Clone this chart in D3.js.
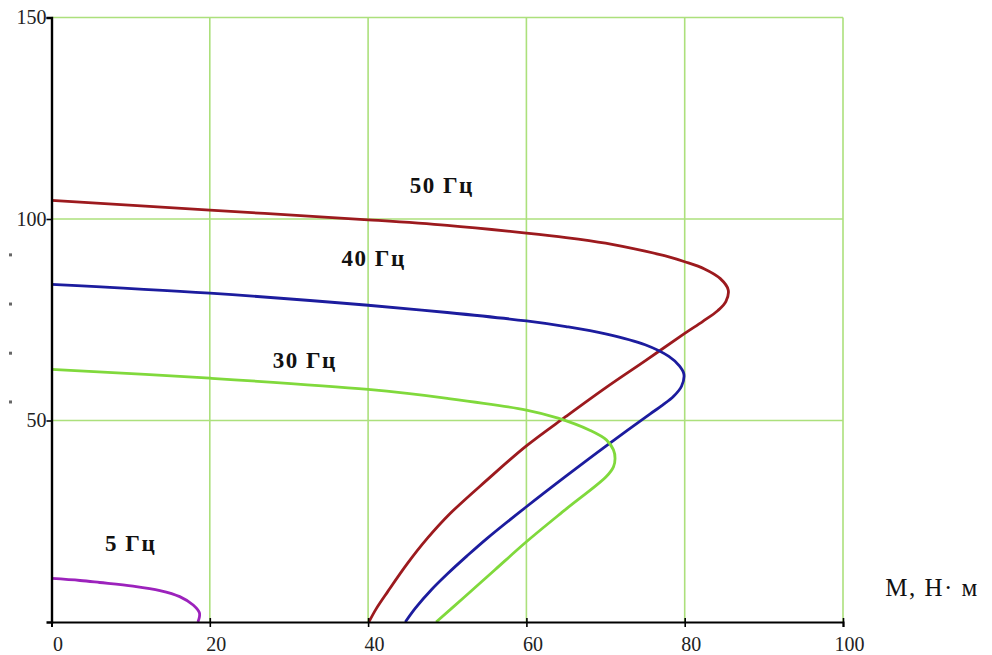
<!DOCTYPE html>
<html>
<head>
<meta charset="utf-8">
<script src="https://cdn.jsdelivr.net/npm/d3@7"></script>
<style>
  html, body { margin: 0; padding: 0; background: #fff; }
  svg { display: block; }
</style>
</head>
<body>
<svg id="chart" width="992" height="655"></svg>
<script>
// Mechanical characteristics n(M) of the motor at several supply frequencies
const torque50 = [0, 20, 40, 50, 60, 65, 70, 75, 78, 80, 82.5, 84.5, 85.5, 85.2, 84.2, 82.3, 80, 75, 70, 65, 60, 55, 50.3, 47.5, 45, 42.5, 41, 40.1];
const speed50  = [104.6, 102.2, 99.8, 98.4, 96.5, 95.4, 94, 92, 90.6, 89.4, 87.6, 85.2, 82.4, 79.5, 77.3, 74.6, 71.6, 64.8, 58.1, 51, 43.7, 35.2, 26.8, 20.8, 14.6, 7.6, 3.2, 0];

const torque40 = [0, 20, 40, 50, 60, 65, 70, 75, 78, 79.3, 79.9, 79.6, 78.6, 77.2, 75.6, 70, 65, 60, 55, 52.5, 50, 48, 46, 44.7];
const speed40  = [83.8, 81.6, 78.6, 76.8, 74.7, 73.3, 71.5, 68.8, 65.9, 63.6, 61.5, 58.5, 56, 53.8, 51.6, 43.6, 36.2, 28.6, 20.7, 16.4, 11.9, 8, 3.5, 0];

const torque30 = [0, 20, 40, 50, 60, 64, 68, 70.1, 71, 71.2, 71, 70.1, 65, 60, 56, 52, 48.6];
const speed30  = [62.7, 60.5, 57.7, 55.5, 52.6, 50.6, 47.6, 45.2, 42.7, 40.6, 38.5, 36.1, 28, 19.9, 12.9, 5.9, 0];

const torque5 = [0, 3.6, 6.1, 10.3, 13.7, 16.2, 17.9, 18.7, 18.5];
const speed5  = [10.8, 10.3, 9.8, 8.9, 7.8, 6.3, 4.2, 2.2, 0];

const curveNames  = ["50 Гц", "40 Гц", "30 Гц", "5 Гц"];
const curveColors = ["#9c1a1e", "#1c1c9e", "#80d93c", "#9c22bc"];
// label anchor points in data units (torque, speed)
const labelM = [49.3, 40.7, 32, 10];
const labelN = [108.3, 90.3, 64.8, 19.5];

const xTicks = [0, 20, 40, 60, 80, 100];
const yTicks = [50, 100, 150];
const yMarks = [54.6, 66.7, 78.9, 91.1];
const xTitle = "М, Н· м";

const svg = d3.select("#chart");
const plotLeft = 51.5, plotRight = 843, plotTop = 17.5, plotBottom = 622;
const serif = "'Liberation Serif', 'Times New Roman', serif";

const x = d3.scaleLinear().domain([0, 100]).range([plotLeft, plotRight]);
const y = d3.scaleLinear().domain([0, 150]).range([plotBottom, plotTop]);

// grid
const grid = svg.append("g").attr("stroke", "#ace07c").attr("stroke-width", 1.6);
grid.selectAll("line.v").data(xTicks.filter(d => d > 0)).join("line")
  .attr("class", "v")
  .attr("x1", d => x(d)).attr("x2", d => x(d))
  .attr("y1", y(150)).attr("y2", y(0));
grid.selectAll("line.h").data(yTicks).join("line")
  .attr("class", "h")
  .attr("x1", x(0)).attr("x2", x(100))
  .attr("y1", d => y(d)).attr("y2", d => y(d));

// curves
const series = [
  [torque50, speed50],
  [torque40, speed40],
  [torque30, speed30],
  [torque5, speed5]
];
const line = d3.line()
  .x(d => x(d[0])).y(d => y(d[1]))
  .curve(d3.curveCatmullRom.alpha(0.5));

series.forEach(([ms, ns], i) => {
  const pts = ms.map((m, k) => [m, ns[k]]);
  svg.append("path")
    .datum(pts)
    .attr("d", line)
    .attr("fill", "none")
    .attr("stroke", curveColors[i])
    .attr("stroke-width", 2.8)
    .attr("stroke-linejoin", "round");
});

// axes
const xAxis = d3.axisBottom(x).tickValues(xTicks).tickSize(5).tickFormat(d3.format("d"));
const gx = svg.append("g").attr("transform", `translate(0,${plotBottom})`).call(xAxis);
gx.select(".domain").attr("stroke", "#000").attr("stroke-width", 2);
gx.selectAll(".tick line").attr("stroke", "#000").attr("stroke-width", 1.6).attr("y1", -4);
gx.selectAll(".tick text")
  .attr("font-family", serif)
  .attr("font-size", 20).attr("fill", "#222")
  .attr("dx", 6).attr("y", 15).attr("dy", "0.71em");

const yAxis = d3.axisLeft(y).tickValues(yTicks).tickSize(5).tickFormat(d3.format("d"));
const gy = svg.append("g").attr("transform", `translate(${plotLeft},0)`).call(yAxis);
gy.select(".domain").attr("stroke", "#000").attr("stroke-width", 2.4);
gy.selectAll(".tick line").attr("stroke", "#000").attr("stroke-width", 1.6);
gy.selectAll(".tick text")
  .attr("font-family", serif)
  .attr("font-size", 20).attr("fill", "#222")
  .attr("x", -5);

// faint markers left of the speed axis
svg.append("g").selectAll("rect").data(yMarks).join("rect")
  .attr("x", 9).attr("y", d => y(d) - 1.5)
  .attr("width", 3).attr("height", 3)
  .attr("fill", "#666");

// curve labels
svg.append("g").selectAll("text").data(curveNames).join("text")
  .attr("x", (d, i) => x(labelM[i]))
  .attr("y", (d, i) => y(labelN[i]))
  .attr("text-anchor", "middle")
  .attr("dominant-baseline", "central")
  .attr("font-family", serif)
  .attr("font-weight", "bold")
  .attr("font-size", 23)
  .attr("letter-spacing", 1.5)
  .attr("fill", "#111")
  .text(d => d);

// axis title
svg.append("text")
  .attr("x", 932).attr("y", 587)
  .attr("text-anchor", "middle")
  .attr("dominant-baseline", "central")
  .attr("font-family", serif)
  .attr("font-size", 25)
  .attr("letter-spacing", 1.5)
  .attr("fill", "#111")
  .text(xTitle);
</script>
</body>
</html>
